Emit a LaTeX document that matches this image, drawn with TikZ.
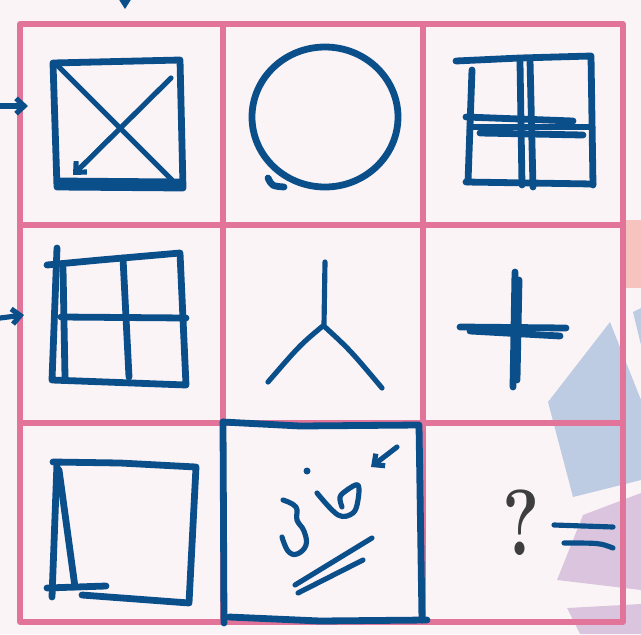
\documentclass[tikz,border=0pt]{standalone}
\usetikzlibrary{arrows.meta}
\definecolor{ink}{HTML}{0B4F8A}
\definecolor{gridpink}{HTML}{E2749A}
\definecolor{paper}{HTML}{FBF4F7}
\definecolor{patchblue}{HTML}{B7C8E0}
\definecolor{patchlilac}{HTML}{D8C0DC}
\definecolor{patchsalmon}{HTML}{F6C3BE}
\definecolor{qgray}{HTML}{3E3E3E}
\begin{document}
\begin{tikzpicture}[x=0.03cm, y=-0.03cm, line cap=round, line join=round,
  pen/.style={draw=ink, line width=5.8pt},
  thinpen/.style={draw=ink, line width=4.4pt},
  gridline/.style={draw=gridpink, line width=4.4pt},
  >={Straight Barb[length=7pt, width=13pt]}]
				% 1. background and colour patches
				\useasboundingbox (0,0) rectangle (641,634);
				\fill[paper] (0,0) rectangle (641,634);
				\fill[patchsalmon] (620,220) rectangle (641,288);
				\fill[patchblue, opacity=0.9] (610,322) -- (548,402) -- (573,497) -- (641,480) -- (641,400) -- cycle;
				\fill[patchblue, opacity=0.9] (633,312) -- (641,308) -- (641,345) -- cycle;
				\fill[patchlilac, opacity=0.9] (583,515) -- (641,493) -- (641,590) -- (557,580) -- cycle;
				\fill[patchlilac, opacity=0.9] (567,608) -- (641,604) -- (641,634) -- (580,634) -- cycle;
				
				% 2. pink grid
				\draw[gridline] (20,24) rectangle (623,622);
				\foreach \gx in {223,423}
					\draw[gridline] (\gx,24) -- (\gx,622);
				\foreach \gy in {225,423}
					\draw[gridline] (20,\gy) -- (623,\gy);
				
				% 3. marks outside the grid
				\fill[ink] (118,-2) -- (132,-2) -- (125,9) -- cycle;
				\draw[thinpen, ->] (0,106) -- (28,106);
				\draw[thinpen, ->] (0,318) -- (24,315);
				
				% 4. first row
				\draw[pen] (53,63) -- (180,60) -- (183,188) -- (57,187) -- cycle;
				\draw[pen] (60,181) -- (182,182);
				\draw[thinpen] (58,66) -- (172,180);
				\draw[thinpen, ->] (171,78) -- (73,175);
				\draw[pen] (325,117) ellipse (73 and 70);
				\draw[pen] (268,178) .. controls (272,186) .. (284,187);
				\draw[pen] (456,61) -- (520,58) -- (591,56) -- (593,185);
				\draw[pen] (466,182) -- (593,184);
				\draw[pen] (472,70) -- (468,182);
				\draw[pen] (520,62) -- (522,185);
				\draw[pen] (530,60) -- (533,187);
				\draw[pen] (466,117) -- (573,121);
				\draw[pen] (470,127) -- (592,127);
				\draw[pen] (480,133) -- (583,135);
				
				% 5. second row
				\draw[pen] (57,248) -- (52,380) -- (186,385) -- (180,253) -- (100,260) -- (47,265);
				\draw[pen] (63,268) -- (65,377);
				\draw[pen] (123,258) -- (129,377);
				\draw[pen] (61,317) -- (186,318);
				\draw[thinpen] (325,262) -- (324,325) .. controls (300,345) .. (268,382);
				\draw[thinpen] (325,327) .. controls (350,350) .. (382,388);
				\draw[pen] (515,272) -- (513,387);
				\draw[pen] (519,280) -- (517,380);
				\draw[pen] (460,327) -- (566,328);
				\draw[pen] (470,331) -- (560,336);
				
				% 6. third row
				\draw[pen] (53,462) -- (120,463) -- (196,467) -- (189,603) -- (82,595);
				\draw[pen] (57,463) -- (52,597);
				\draw[pen] (59,470) -- (75,587);
				\draw[pen] (47,588) -- (106,586);
				\draw[pen] (223,422) -- (300,426) -- (419,425) -- (422,620);
				\draw[pen] (223,422) -- (224,623);
				\draw[pen] (229,617) -- (320,621) -- (427,620);
				\draw[thinpen, ->] (397,447) -- (371,467);
				\fill[ink] (307,471) circle (3.5);
				\draw[thinpen] plot[smooth, tension=0.7] coordinates {(283,500) (296,507) (297,520) (304,531) (306,545) (297,554) (288,551) (282,537)};
				\draw[thinpen] plot[smooth, tension=0.6] coordinates {(317,493) (338,515) (353,513) (358,500) (358,485) (347,490) (340,497) (342,507)};
				\draw[thinpen] (295,585) -- (372,538);
				\draw[thinpen] (298,593) -- (363,560);
				\node[text=qgray, font=\fontsize{80}{80}\selectfont\bfseries, xscale=0.75] (qmark) at (521,523) {?};
				\draw[thinpen] (554,525) -- (613,527);
				\draw[thinpen] (564,543) .. controls (600,543) .. (613,548);
			\end{tikzpicture}
\end{document}
